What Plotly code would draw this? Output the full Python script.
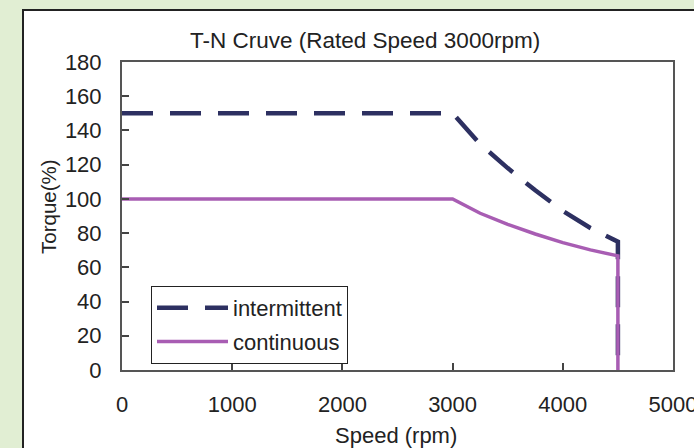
import plotly.graph_objects as go

speed_int = [0, 3000, 3250, 3500, 3750, 4000, 4250, 4500, 4500]
torque_int = [150, 150, 132, 118, 105, 93, 83, 75, 0]
speed_cont = [0, 3000, 3250, 3500, 3750, 4000, 4250, 4500, 4500]
torque_cont = [100, 100, 91.6, 85.1, 79.5, 74.4, 70.2, 66.7, 0]

W, H = 694, 448
L, R, T, B = 122, 21, 62, 78
pw, ph = W - L - R, H - T - B

def px2x(px):
    return (px - L) / pw

def px2y(py):
    return (H - B - py) / ph

FONT = "Liberation Sans, Arial, sans-serif"
TXT = "#222222"

fig = go.Figure()
fig.add_trace(go.Scatter(x=speed_int, y=torque_int, mode="lines", name="intermittent",
                         legendgroup="g1",
                         line=dict(color="#2d3061", width=4.5, dash="31px,17px")))
fig.add_trace(go.Scatter(x=speed_cont, y=torque_cont, mode="lines", name="continuous",
                         legendgroup="g2",
                         line=dict(color="#a85db3", width=3.5)))

fig.add_shape(type="rect", xref="paper", yref="paper",
              x0=px2x(23), x1=px2x(720), y0=px2y(470), y1=px2y(10),
              line=dict(color="#222222", width=2), fillcolor="white", layer="below")

fig.add_annotation(text="T-N Cruve (Rated Speed 3000rpm)", xref="paper", yref="paper",
                   x=px2x(365), y=px2y(40), showarrow=False, xanchor="center", yanchor="middle",
                   font=dict(size=22.5, color=TXT, family=FONT))
fig.add_annotation(text="Speed (rpm)", xref="paper", yref="paper",
                   x=px2x(396), y=px2y(436), showarrow=False, xanchor="center", yanchor="middle",
                   font=dict(size=22, color=TXT, family=FONT))
fig.add_annotation(text="Torque(%)", xref="paper", yref="paper", textangle=-90,
                   x=px2x(48), y=px2y(207), showarrow=False, xanchor="center", yanchor="middle",
                   font=dict(size=20.5, color=TXT, family=FONT))

fig.update_layout(
    width=W, height=H,
    margin=dict(l=L, r=R, t=T, b=B, autoexpand=False),
    paper_bgcolor="#e1eed3",
    plot_bgcolor="white",
    font=dict(family=FONT, size=22, color=TXT),
    showlegend=True,
    legend=dict(x=px2x(151), y=px2y(286), xanchor="left", yanchor="top",
                bgcolor="white", bordercolor="#222222", borderwidth=1,
                font=dict(size=22, family=FONT, color=TXT),
                tracegroupgap=2, itemwidth=71),
    xaxis=dict(range=[0, 5000], dtick=1000, tick0=0, ticks="inside", ticklen=7,
               tickcolor="#444444", tickwidth=2, showline=True, mirror=True,
               linecolor="#555555", linewidth=2, showgrid=False, zeroline=False,
               ticklabelstandoff=14, ticklabeloverflow="allow", automargin=False,
               tickfont=dict(size=22)),
    yaxis=dict(range=[0, 180], dtick=20, tick0=0, ticks="inside", ticklen=7,
               tickcolor="#444444", tickwidth=2, showline=True, mirror=True,
               linecolor="#555555", linewidth=2, showgrid=False, zeroline=False,
               ticklabelstandoff=14, ticklabeloverflow="allow", automargin=False,
               tickfont=dict(size=22)),
)

fig.write_html("out.html", config={"displayModeBar": False},
               post_script="document.body.style.margin='0';document.body.style.overflow='hidden';")
